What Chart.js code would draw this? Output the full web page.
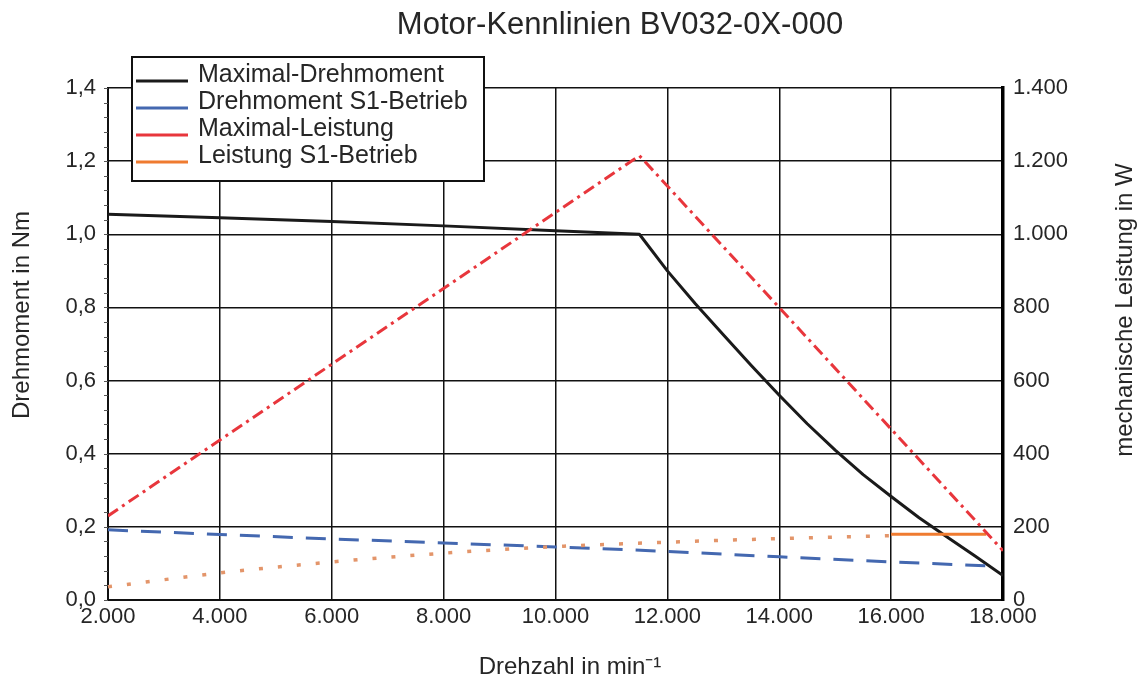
<!DOCTYPE html>
<html>
<head>
<meta charset="utf-8">
<script src="https://cdn.jsdelivr.net/npm/chart.js@4"></script>
<style>
  html, body { margin: 0; padding: 0; background: #fff; }
  #wrap { width: 1141px; height: 682px; position: relative; }
</style>
</head>
<body>
<div id="wrap"><canvas id="chart"></canvas></div>
<script>
const drehzahlMax = [2000, 4000, 6000, 8000, 10000, 11500, 12000, 12500, 13000, 13500, 14000, 14500, 15000, 15500, 16000, 16500, 17000, 17500, 18000];
const maxDrehmoment = [1.055, 1.045, 1.035, 1.023, 1.01, 1.0, 0.9, 0.81, 0.725, 0.641, 0.56, 0.482, 0.41, 0.343, 0.283, 0.225, 0.172, 0.12, 0.067];

const drehzahlS1 = [2000, 4000, 6000, 8000, 10000, 12000, 14000, 16000, 17800];
const drehmomentS1 = [0.192, 0.179, 0.167, 0.156, 0.145, 0.133, 0.118, 0.104, 0.093];

const drehzahlLeistungMax = [2000, 11500, 18000];
const maxLeistung = [230, 1215, 135];

const drehzahlLeistungS1 = [2000, 4000, 6000, 8000, 10000, 12000, 14000, 16000];
const leistungS1 = [36, 74, 104, 128, 146, 158, 168, 176];

const drehzahlLeistungS1End = [16000, 17700];
const leistungS1End = [180, 180];

const legendLabels = ["Maximal-Drehmoment", "Drehmoment S1-Betrieb", "Maximal-Leistung", "Leistung S1-Betrieb"];
const legendColors = ["#1a1a1a", "#4468b0", "#e8363c", "#ef7b30"];

const titel = "Motor-Kennlinien BV032-0X-000";
const xTitel = "Drehzahl in min\u207B\u00B9";
const yTitel = "Drehmoment in Nm";
const y2Titel = "mechanische Leistung in W";

const FONT = "'Liberation Sans', Arial, sans-serif";
const TEXT = "#262626";

function pts(xs, ys) {
  return xs.map((x, i) => ({ x: x, y: ys[i] }));
}
function tausend(v) {
  return String(v).replace(/\B(?=(\d{3})+(?!\d))/g, ".");
}

// titles placed like in the original (both side titles read upwards)
const titles = {
  id: "titles",
  afterDraw(chart) {
    const c = chart.ctx;
    c.save();
    c.fillStyle = TEXT;
    c.textAlign = "center";
    c.textBaseline = "middle";
    c.font = "31px " + FONT;
    c.fillText(titel, 620, 25);
    c.font = "24px " + FONT;
    c.fillText(xTitel, 570, 667);
    c.translate(22, 315);
    c.rotate(-Math.PI / 2);
    c.fillText(yTitel, 0, 0);
    c.setTransform(1, 0, 0, 1, 0, 0);
    c.translate(1125, 310);
    c.rotate(-Math.PI / 2);
    c.fillText(y2Titel, 0, 0);
    c.restore();
  }
};

// legend box drawn on top of the plot, like the original
const boxLegend = {
  id: "boxLegend",
  afterDraw(chart) {
    const c = chart.ctx;
    c.save();
    c.fillStyle = "#fff";
    c.fillRect(132, 57, 352, 124);
    c.strokeStyle = "#111";
    c.lineWidth = 2;
    c.strokeRect(132, 57, 352, 124);
    c.font = "25px " + FONT;
    c.textBaseline = "middle";
    c.fillStyle = TEXT;
    legendLabels.forEach((t, i) => {
      const ty = 75 + i * 27;
      c.fillText(t, 198, ty);
      c.strokeStyle = legendColors[i];
      c.lineWidth = 3;
      c.beginPath();
      c.moveTo(136, ty + 6);
      c.lineTo(188, ty + 6);
      c.stroke();
    });
    c.restore();
  }
};

// small minor ticks on the left axis
const minorTicks = {
  id: "minorTicks",
  afterDraw(chart) {
    const s = chart.scales.y;
    const c = chart.ctx;
    c.save();
    c.strokeStyle = "#555";
    c.lineWidth = 1;
    for (let v = 0; v <= 1.4001; v += 0.04) {
      const y = Math.round(s.getPixelForValue(v)) + 0.5;
      c.beginPath();
      c.moveTo(s.right - 4, y);
      c.lineTo(s.right, y);
      c.stroke();
    }
    c.restore();
  }
};

new Chart(document.getElementById("chart"), {
  type: "line",
  data: {
    datasets: [
      {
        label: "Maximal-Leistung",
        data: pts(drehzahlLeistungMax, maxLeistung),
        yAxisID: "y2",
        borderColor: "#e8363c",
        borderWidth: 3,
        borderDash: [12, 5, 3, 5],
        pointRadius: 0
      },
      {
        label: "Leistung S1-Betrieb (Verlauf)",
        data: pts(drehzahlLeistungS1, leistungS1),
        yAxisID: "y2",
        borderColor: "#e3956a",
        borderWidth: 3.5,
        borderDash: [4, 15],
        cubicInterpolationMode: "monotone",
        pointRadius: 0
      },
      {
        label: "Leistung S1-Betrieb",
        data: pts(drehzahlLeistungS1End, leistungS1End),
        yAxisID: "y2",
        borderColor: "#ef7b30",
        borderWidth: 3,
        pointRadius: 0
      },
      {
        label: "Drehmoment S1-Betrieb",
        data: pts(drehzahlS1, drehmomentS1),
        yAxisID: "y",
        borderColor: "#4468b0",
        borderWidth: 3,
        borderDash: [20, 13],
        pointRadius: 0
      },
      {
        label: "Maximal-Drehmoment",
        data: pts(drehzahlMax, maxDrehmoment),
        yAxisID: "y",
        borderColor: "#1a1a1a",
        borderWidth: 3,
        borderJoinStyle: "round",
        pointRadius: 0
      }
    ]
  },
  options: {
    responsive: true,
    maintainAspectRatio: false,
    animation: false,
    layout: { padding: { top: 88 } },
    plugins: {
      legend: { display: false },
      tooltip: { enabled: false },
      title: { display: false }
    },
    scales: {
      x: {
        type: "linear",
        min: 2000,
        max: 18000,
        afterFit: s => { s.height = 82; },
        ticks: {
          stepSize: 2000,
          color: TEXT,
          padding: 4,
          maxRotation: 0,
          font: { family: FONT, size: 22 },
          callback: v => tausend(v)
        },
        grid: { color: "#111", lineWidth: 1.5, drawTicks: false },
        border: { color: "#111", width: 2 }
      },
      y: {
        position: "left",
        min: 0,
        max: 1.4,
        afterFit: s => { s.width = 108; },
        ticks: {
          stepSize: 0.2,
          color: TEXT,
          padding: 12,
          font: { family: FONT, size: 22 },
          callback: v => v.toFixed(1).replace(".", ",")
        },
        grid: { color: "#111", lineWidth: 1.5, drawTicks: false },
        border: { color: "#111", width: 2 }
      },
      y2: {
        position: "right",
        min: 0,
        max: 1400,
        afterFit: s => { s.width = 138; },
        ticks: {
          stepSize: 200,
          color: TEXT,
          padding: 10,
          font: { family: FONT, size: 22 },
          callback: v => tausend(v)
        },
        grid: { display: false, drawTicks: false },
        border: { color: "#000", width: 3.5 }
      }
    }
  },
  plugins: [titles, boxLegend, minorTicks]
});
</script>
</body>
</html>
